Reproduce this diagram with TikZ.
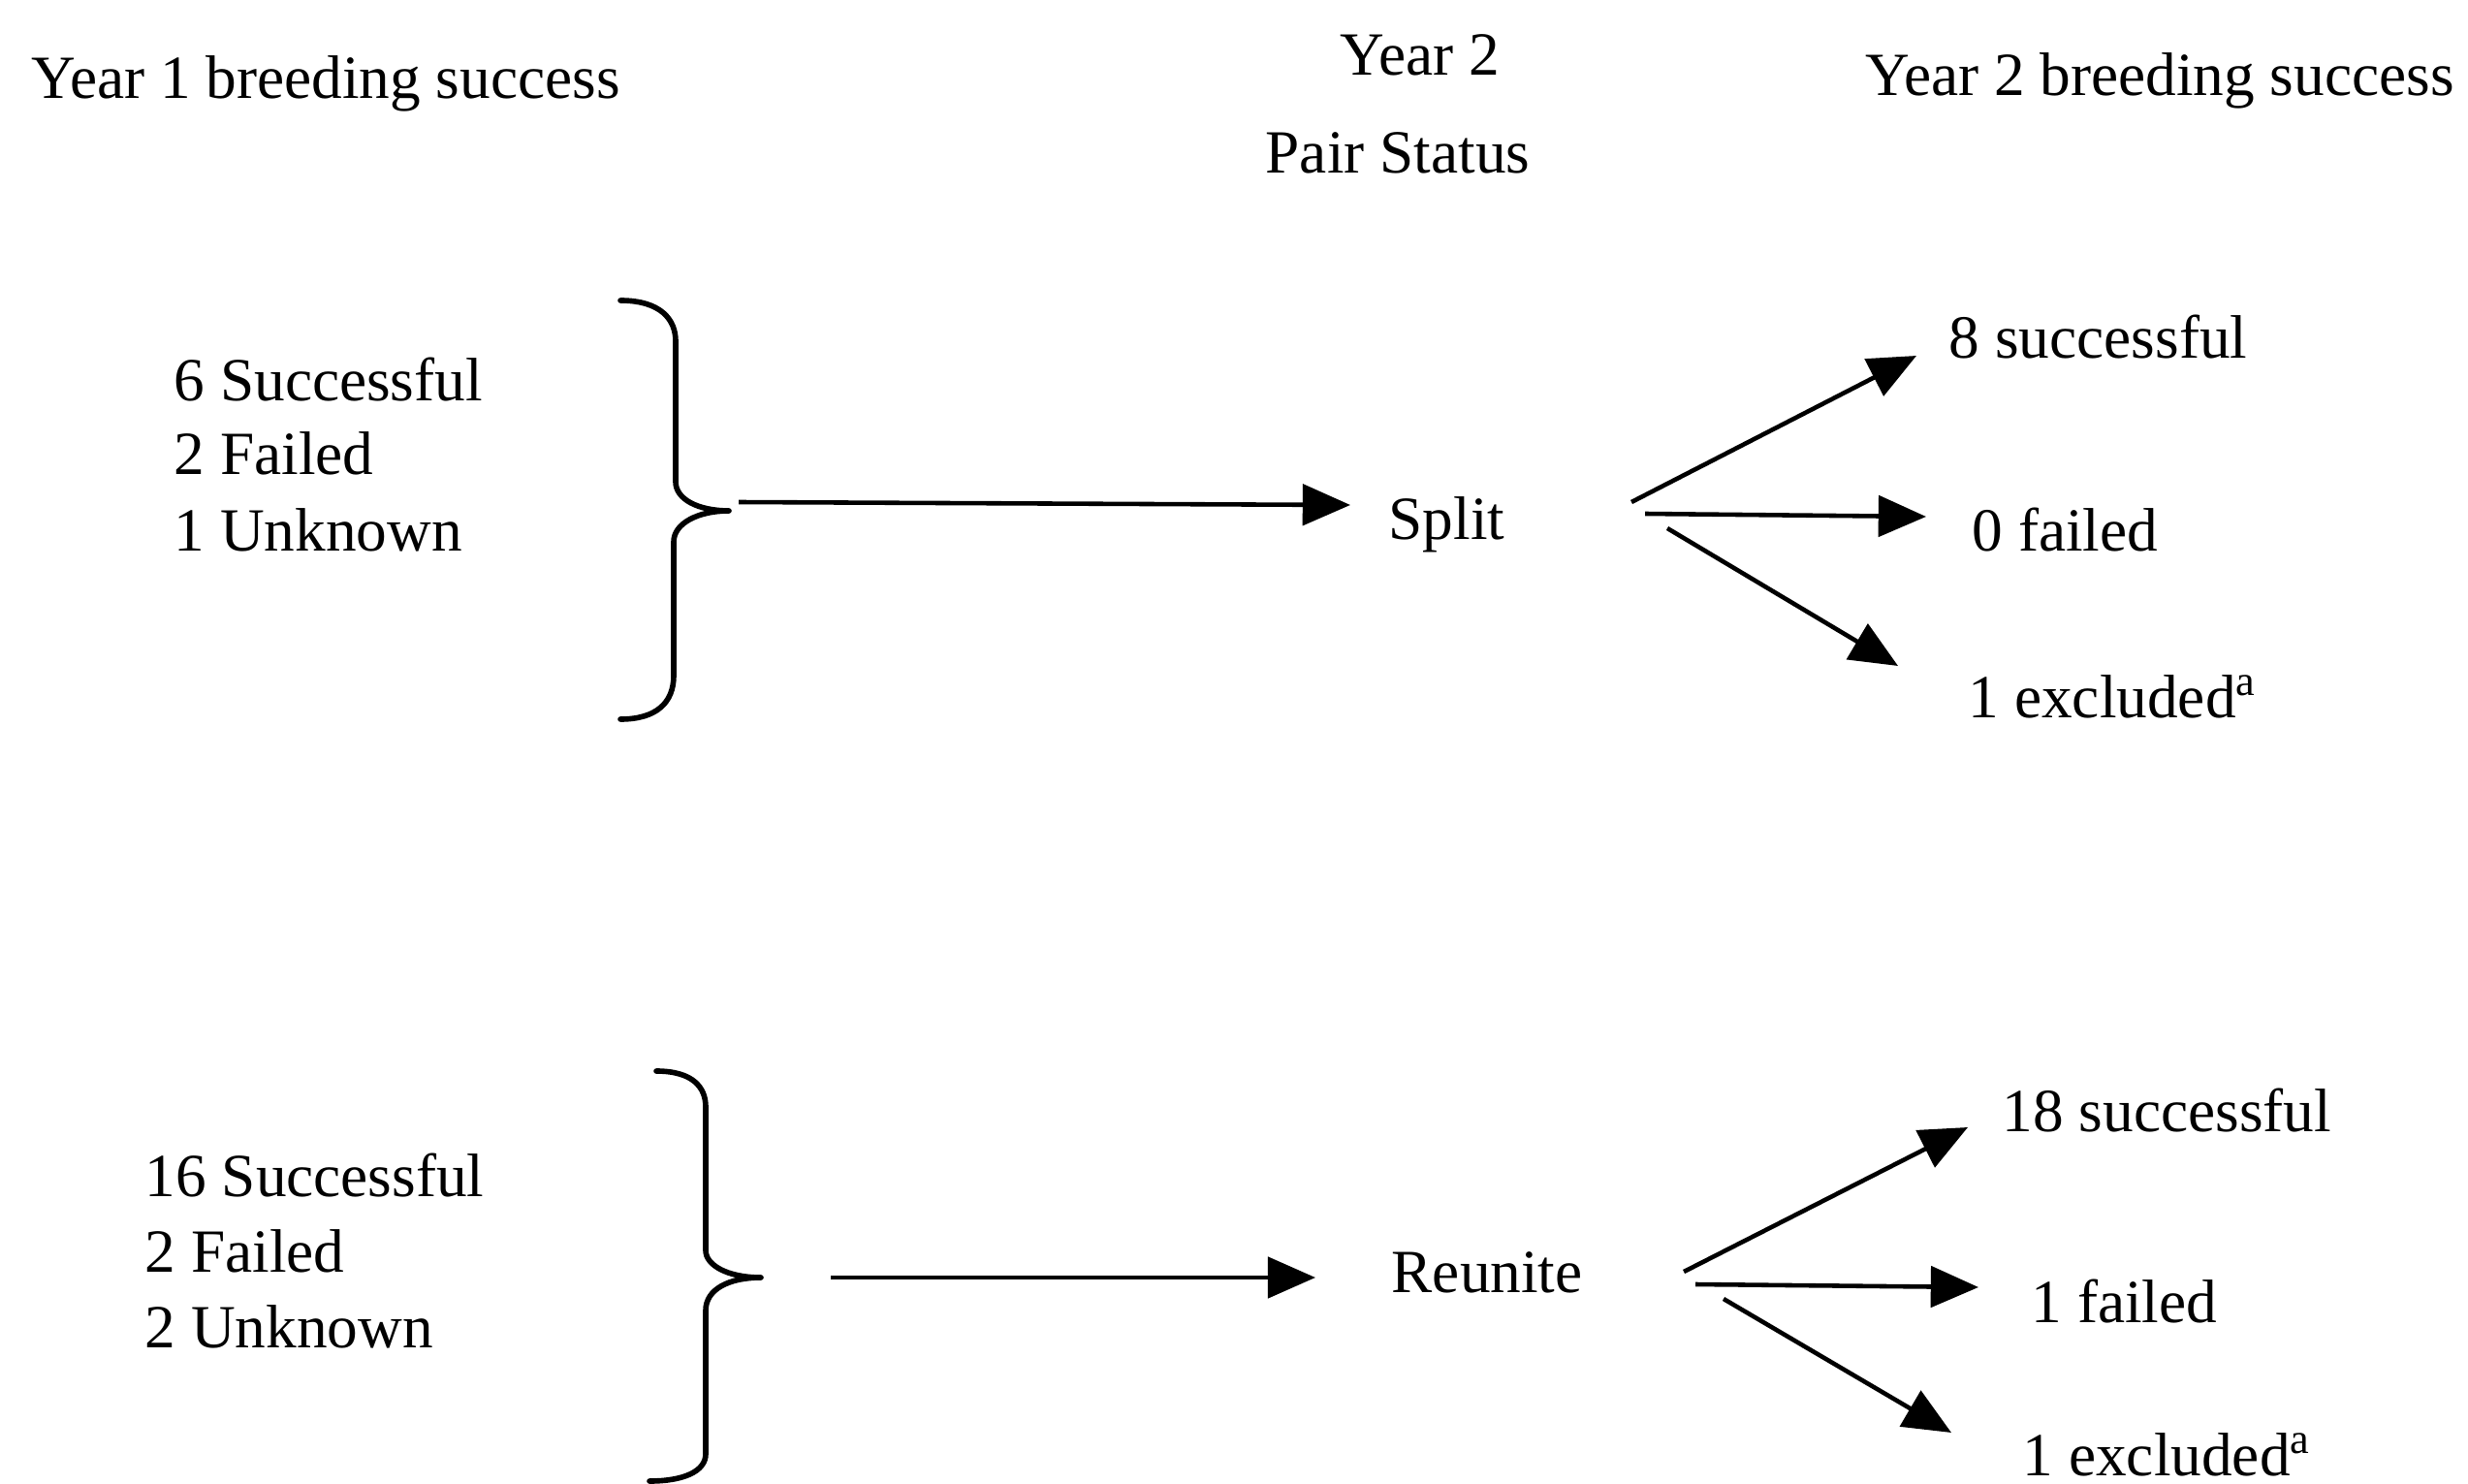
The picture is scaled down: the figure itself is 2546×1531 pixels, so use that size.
\documentclass[tikz,border=0pt]{standalone}
\usepackage{fontspec}
\setmainfont{Liberation Serif}
\usetikzlibrary{arrows.meta}
\begin{document}
\begin{tikzpicture}[x=0.01cm,y=-0.01cm,
  lbl/.style={font=\fontsize{18}{22}\selectfont, inner sep=0pt, anchor=base west},
  clbl/.style={font=\fontsize{18}{22}\selectfont, inner sep=0pt, anchor=base},
  arr/.style={line width=1.3pt, -{Triangle[length=14pt,width=12pt]}},
  brace/.style={line width=1.6pt, line cap=round, line join=round}]
\useasboundingbox (0,0) rectangle (2546,1531);
\clip (0,0) rectangle (2546,1531);
% headings
\node[lbl] (h1) at (32,102) {Year 1 breeding success};
\node[clbl] (h2a) at (1465,78) {Year 2};
\node[clbl] (h2b) at (1442,179) {Pair Status};
\node[lbl] (h3) at (1924,99) {Year 2 breeding success};
% group 1
\node[lbl] (g1a) at (179,414) {6 Successful};
\node[lbl] (g1b) at (179,490) {2 Failed};
\node[lbl] (g1c) at (179,568) {1 Unknown};
\draw[brace] (640,310) .. controls (682,310) and (697,330) .. (697,352)
  -- (697,497) .. controls (697,515) and (720,527) .. (752,527)
  .. controls (720,527) and (695,540) .. (695,559)
  -- (695,697) .. controls (695,725) and (677,742) .. (640,742);
\coordinate (b1) at (762,518);
\node[lbl] (split) at (1432,557) {Split};
\coordinate (s1in) at (1393,521);
\draw[arr] (b1) -- (s1in);
\node[lbl] (s1) at (2010,370) {8 successful};
\node[lbl] (s2) at (2034,568) {0 failed};
\node[lbl] (s3) at (2030,740) {1 excluded\textsuperscript{a}};
\coordinate (f1a) at (1683,518);
\coordinate (f1b) at (1697,530);
\coordinate (f1c) at (1720,545);
\coordinate (t1a) at (1977,367);
\coordinate (t1b) at (1987,533);
\coordinate (t1c) at (1958,687);
\draw[arr] (f1a) -- (t1a);
\draw[arr] (f1b) -- (t1b);
\draw[arr] (f1c) -- (t1c);
% group 2
\node[lbl] (g2a) at (149,1234) {16 Successful};
\node[lbl] (g2b) at (149,1312) {2 Failed};
\node[lbl] (g2c) at (149,1390) {2 Unknown};
\draw[brace] (677,1105) .. controls (715,1105) and (728,1122) .. (728,1142)
  -- (728,1290) .. controls (728,1305) and (750,1318) .. (785,1318)
  .. controls (752,1318) and (728,1330) .. (728,1352)
  -- (728,1500) .. controls (728,1518) and (705,1528) .. (670,1528);
\coordinate (b2) at (857,1318);
\node[lbl] (reunite) at (1435,1333) {Reunite};
\coordinate (r2in) at (1357,1318);
\draw[arr] (b2) -- (r2in);
\node[lbl] (r1) at (2065,1167) {18 successful};
\node[lbl] (r2) at (2095,1364) {1 failed};
\node[lbl] (r3) at (2086,1522) {1 excluded\textsuperscript{a}};
\coordinate (f2a) at (1737,1312);
\coordinate (f2b) at (1749,1325);
\coordinate (f2c) at (1778,1340);
\coordinate (t2a) at (2030,1163);
\coordinate (t2b) at (2041,1328);
\coordinate (t2c) at (2013,1478);
\draw[arr] (f2a) -- (t2a);
\draw[arr] (f2b) -- (t2b);
\draw[arr] (f2c) -- (t2c);
\end{tikzpicture}
\end{document}
